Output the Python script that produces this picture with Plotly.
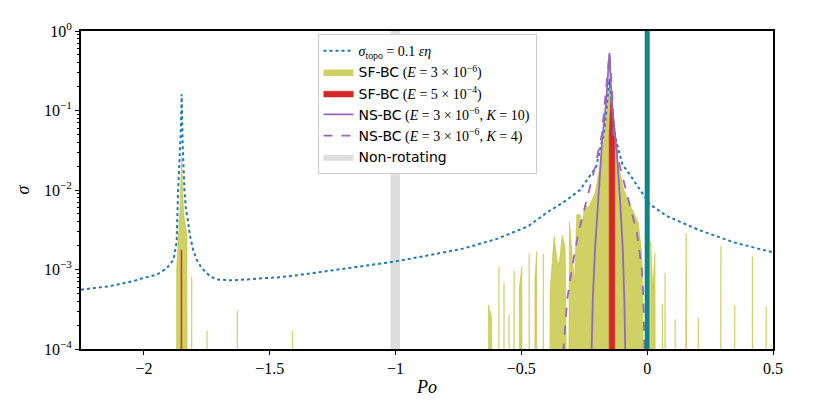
import plotly.graph_objects as go

B = 1e-6  # floor below the axis range, used to close the filled spikes
TOP = 10.0  # ceiling above the axis range, for the non-rotating band

# sigma_topo = 0.1 eps eta (dotted)
topo_x = [-2.25, -2.135, -2.043, -2.002, -1.949, -1.909, -1.883, -1.870, -1.864, -1.857, -1.853, -1.850,
          -1.846, -1.839, -1.833, -1.826, -1.817, -1.804, -1.790, -1.770, -1.737, -1.711, -1.646,
          -1.515, -1.459, -1.380, -1.002, -0.863, -0.732, -0.597, -0.533, -0.473, -0.399, -0.33,
          -0.267, -0.233, -0.203, -0.187, -0.174, -0.167, -0.161, -0.157, -0.150, -0.141, -0.128,
          -0.115, -0.097, -0.081, -0.028, 0.011, 0.078, 0.210, 0.343, 0.488, 0.5]
topo_y = [5.57e-4, 6.18e-4, 7.13e-4, 7.83e-4, 8.6e-4, 1.04e-3, 1.32e-3, 2.2e-3, 1.0e-2, 3.0e-2, 6.0e-2, 1.6e-1,
          3.77e-2, 1.0e-2, 5.7e-3, 4.3e-3, 2.68e-3, 1.75e-3, 1.32e-3, 1.04e-3, 8.2e-4, 7.5e-4, 7.3e-4,
          7.8e-4, 8.0e-4, 8.55e-4, 1.26e-3, 1.52e-3, 1.83e-3, 2.43e-3, 2.95e-3, 3.5e-3, 5.2e-3, 7.1e-3,
          1.0e-2, 1.4e-2, 1.95e-2, 3.27e-2, 4.8e-2, 7.0e-2, 1.11e-1, 1.62e-1, 2.5e-1, 1.11e-1, 4.8e-2,
          3.27e-2, 2.04e-2, 1.77e-2, 1.0e-2, 6.6e-3, 4.7e-3, 3.1e-3, 2.2e-3, 1.67e-3, 1.64e-3]

# SF-BC, E = 3e-6 (olive fill)
sf3_x = [-1.871, -1.870, -1.862, -1.855, -1.850, -1.846, -1.840, -1.829, -1.828,
         -1.811, -1.810, -1.809, -1.750, -1.749, -1.748, -1.630, -1.629, -1.628, -1.410, -1.409, -1.408,
         -0.632, -0.631, -0.618, -0.617, -0.590, -0.589, -0.588, -0.570, -0.569, -0.568,
         -0.550, -0.549, -0.548, -0.530, -0.529, -0.528, -0.509, -0.508, -0.498, -0.497,
         -0.470, -0.469, -0.468, -0.447, -0.446, -0.439, -0.438, -0.414, -0.413, -0.412,
         -0.387, -0.386, -0.370, -0.357, -0.349, -0.338, -0.326, -0.321, -0.314, -0.309, -0.289, -0.280,
         -0.267, -0.260, -0.247, -0.234, -0.207, -0.187, -0.170, -0.160, -0.151, -0.145, -0.130,
         -0.115, -0.093, -0.061, -0.046, -0.035, -0.0215, -0.017, -0.016,
         0.013, 0.014, 0.022, 0.031, 0.033, 0.059, 0.060, 0.061, 0.070, 0.071, 0.072,
         0.110, 0.111, 0.112, 0.150, 0.155, 0.158, 0.202, 0.203, 0.204, 0.292, 0.293, 0.294,
         0.347, 0.348, 0.349, 0.417, 0.418, 0.419, 0.472, 0.473, 0.474]
sf3_y = [B, 1.05e-3, 3.0e-3, 8e-3, 2.6e-2, 9e-3, 4.5e-3, 2.7e-3, B,
         B, 8.2e-4, B, B, 1.68e-4, B, B, 3.05e-4, B, B, 1.68e-4, B,
         B, 3.58e-4, 2.5e-4, B, B, 1.09e-3, B, B, 6.8e-4, B,
         B, 2.7e-4, B, B, 9.7e-4, B, B, 5.9e-4, 1.1e-3, B,
         B, 1.58e-3, B, B, 7.8e-4, 1.67e-3, B, B, 1.58e-3, B,
         B, 5.4e-4, 2.6e-3, 1.23e-3, 1.23e-3, 2.7e-3, 1.9e-3, B, B, 4.0e-3, 6.8e-4, 4.9e-3,
         4.9e-3, 3.5e-3, 6.6e-3, 6.0e-3, 9.1e-3, 2.1e-2, 4.5e-2, 1.0e-1, 2.0e-1, 1.0e-1, 3.5e-2,
         2.1e-2, 1.0e-2, 5.8e-3, 4.5e-3, 3.9e-3, 1.55e-3, 5.9e-4, B,
         B, 2.26e-3, 5.6e-4, 1.62e-3, B, B, 3.7e-4, B, B, 9.0e-4, B,
         B, 2.36e-4, B, B, 2.86e-3, B, B, 2.45e-4, B, B, 1.98e-3, B,
         B, 3.58e-4, B, B, 1.45e-3, B, B, 3.41e-4, B]

# SF-BC, E = 5e-4 (red fill)
sf5_x = [-1.8527, -1.8527, -1.8493, -1.8493, -0.151, -0.151, -0.146, -0.141, -0.136, -0.129, -0.129]
sf5_y = [B, 1.75e-3, 1.75e-3, B, B, 5.0e-2, 1.2e-1, 1.8e-1, 1.0e-1, 5.0e-2, B]

# NS-BC, E = 3e-6, K = 10 (solid purple)
ns10_x = [-0.221, -0.216, -0.207, -0.194, -0.180, -0.163, -0.150, -0.141, -0.121, -0.108, -0.097, -0.091, -0.087]
ns10_y = [9e-5, 4.4e-4, 1.83e-3, 7.6e-3, 3.77e-2, 1.28e-1, 5.3e-1, 1.28e-1, 3.12e-2, 7.6e-3, 1.83e-3, 4.4e-4, 9e-5]

# NS-BC, E = 3e-6, K = 4 (dashed purple)
ns4_x = [-0.334, -0.317, -0.300, -0.273, -0.240, -0.207, -0.180, -0.167, -0.150,
         -0.137, -0.134, -0.108, -0.075, -0.041, -0.021, -0.015, -0.011]
ns4_y = [9e-5, 4.4e-4, 1.0e-3, 2.94e-3, 7.6e-3, 1.95e-2, 5.0e-2, 1.28e-1, 5.3e-1,
         1.28e-1, 5.0e-2, 1.95e-2, 7.6e-3, 2.94e-3, 1.0e-3, 4.4e-4, 9e-5]

# non-rotating band limits and the Po = 0 marker
nonrot_x = [-1.02, -0.982]
po_zero = 0.0

x_ticks = [-2, -1.5, -1, -0.5, 0, 0.5]
x_labels = ["\u22122", "\u22121.5", "\u22121", "\u22120.5", "0", "0.5"]
y_ticks = [1e-4, 1e-3, 1e-2, 1e-1, 1]
y_labels = ["10<sup>\u22124</sup>", "10<sup>\u22123</sup>", "10<sup>\u22122</sup>", "10<sup>\u22121</sup>", "10<sup>0</sup>"]

serif = "Liberation Serif"
sans = "DejaVu Sans"

def sans_txt(s):
    return f'<span style="font-family:{sans}">{s}</span>'

fig = go.Figure()

fig.add_trace(go.Scatter(
    x=[nonrot_x[0], nonrot_x[0], nonrot_x[1], nonrot_x[1]], y=[B, TOP, TOP, B],
    mode="lines", fill="toself", fillcolor="#dddddd", line=dict(color="#dddddd", width=0),
    name=sans_txt("Non-rotating"), legendrank=6, hoverinfo="skip",
))
fig.add_trace(go.Scatter(
    x=sf3_x, y=sf3_y, mode="lines", fill="toself",
    fillcolor="rgba(188,189,34,0.7)", line=dict(color="rgba(188,189,34,0.8)", width=0.6),
    name=sans_txt("SF-BC") + " (<i>E</i> = 3 \u00d7 10<sup>\u22126</sup>)", legendrank=2,
))
fig.add_trace(go.Scatter(
    x=sf5_x, y=sf5_y, mode="lines", fill="toself",
    fillcolor="#d62728", line=dict(color="#d62728", width=0.6),
    name=sans_txt("SF-BC") + " (<i>E</i> = 5 \u00d7 10<sup>\u22124</sup>)", legendrank=3,
))
fig.add_trace(go.Scatter(
    x=topo_x, y=topo_y, mode="lines",
    line=dict(color="#1f77b4", width=2, dash="dot"),
    name="<i>\u03c3</i><sub>topo</sub> = 0.1 <i>\u03b5\u03b7</i>", legendrank=1,
))
fig.add_trace(go.Scatter(
    x=ns10_x, y=ns10_y, mode="lines",
    line=dict(color="#9467bd", width=1.8),
    name=sans_txt("NS-BC") + " (<i>E</i> = 3 \u00d7 10<sup>\u22126</sup>, <i>K</i> = 10)", legendrank=4,
))
fig.add_trace(go.Scatter(
    x=ns4_x, y=ns4_y, mode="lines",
    line=dict(color="#9467bd", width=1.8, dash="dash"),
    name=sans_txt("NS-BC") + " (<i>E</i> = 3 \u00d7 10<sup>\u22126</sup>, <i>K</i> = 4)", legendrank=5,
))

fig.add_vline(x=po_zero, line=dict(color="#0f8585", width=5))

minor_y = [m * 10 ** e for e in range(-4, 0) for m in range(2, 10)]

fig.update_layout(
    width=806, height=399,
    margin=dict(l=73, r=41, t=16, b=58),
    plot_bgcolor="white", paper_bgcolor="white",
    font=dict(family=serif, size=16, color="black"),
    legend=dict(
        x=0.5, xanchor="center", y=0.99, yanchor="top",
        bgcolor="rgba(255,255,255,0.9)", bordercolor="#cccccc", borderwidth=1,
        font=dict(family=serif, size=14),
    ),
)
fig.update_xaxes(
    range=[-2.25, 0.5], tickvals=x_ticks, ticktext=x_labels,
    tickfont=dict(family=serif, size=16, color="black"),
    showline=True, mirror=True, linecolor="black", linewidth=2,
    ticks="outside", ticklen=4, tickcolor="black", showgrid=False, zeroline=False,
    title=dict(text="<i>Po</i>", font=dict(family=serif, size=18), standoff=4),
)
fig.update_yaxes(
    type="log", range=[-4, 0], tickvals=y_ticks, ticktext=y_labels,
    tickfont=dict(family=serif, size=16, color="black"),
    showline=True, mirror=True, linecolor="black", linewidth=2,
    ticks="outside", ticklen=4, tickcolor="black", showgrid=False, zeroline=False,
    minor=dict(tickvals=minor_y, ticks="outside", ticklen=2, tickcolor="black", showgrid=False),
    title=dict(text="<i>\u03c3</i>", font=dict(family=serif, size=18), standoff=10),
)

fig.write_html("out.html")
